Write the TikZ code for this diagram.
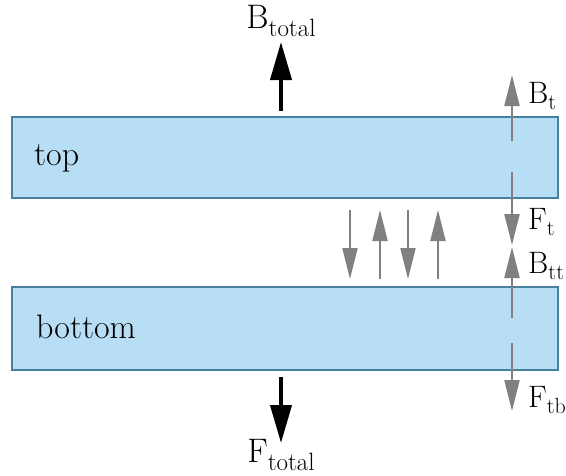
\documentclass[tikz,border=0pt]{standalone}
\usetikzlibrary{arrows.meta}
\definecolor{boxfill}{RGB}{183,222,245}
\definecolor{boxdraw}{RGB}{72,128,160}
\definecolor{garrow}{RGB}{128,128,128}
\newcommand{\mysub}[1]{\raisebox{-0.22em}{\fontsize{25}{25}\selectfont #1}}
\newcommand{\mysubs}[1]{\raisebox{-0.22em}{\fontsize{22}{22}\selectfont #1}}
\tikzset{
  plate/.style={draw=boxdraw, fill=boxfill, line width=1.6pt},
  bigarrow/.style={line width=4pt, -{Triangle[length=38pt,width=21pt]}, black},
  smallarrow/.style={line width=2pt, garrow, -{Triangle[length=31pt,width=15pt]}},
  lbl/.style={font=\fontsize{34}{38}\selectfont, inner sep=0pt},
  slbl/.style={font=\fontsize{31}{35}\selectfont, inner sep=0pt, anchor=west}
}
\begin{document}
\begin{tikzpicture}[x=1pt,y=-1pt]
\useasboundingbox (0,0) rectangle (566,475);
% plates
\draw[plate] (12,117) rectangle (558,198);
\draw[plate] (12,287) rectangle (558,370);
\node[lbl, anchor=west] (top) at (34,158) {top};
\node[lbl, anchor=west] (bot) at (36,327) {bottom};
% black arrows
\coordinate (bs) at (281,111);
\coordinate (be) at (281,42);
\draw[bigarrow] (bs) -- (be);
\node[lbl] (Btot) at (281,21) {B\mysub{total}};
\coordinate (fs) at (281,377);
\coordinate (fe) at (281,443);
\draw[bigarrow] (fs) -- (fe);
\node[lbl] (Ftot) at (281,455) {F\mysub{total}};
% side arrows
\coordinate (bt1) at (512,141);
\coordinate (bt2) at (512,75);
\draw[smallarrow] (bt1) -- (bt2);
\node[slbl] (Bt) at (528,96) {B\mysubs{t}};
\coordinate (ft1) at (512,172);
\coordinate (ft2) at (512,245);
\draw[smallarrow] (ft1) -- (ft2);
\node[slbl] (Ft) at (528,222) {F\mysubs{t}};
\coordinate (btt1) at (512,318);
\coordinate (btt2) at (512,247);
\draw[smallarrow] (btt1) -- (btt2);
\node[slbl] (Btt) at (528,266) {B\mysubs{tt}};
\coordinate (ftb1) at (512,343);
\coordinate (ftb2) at (512,411);
\draw[smallarrow] (ftb1) -- (ftb2);
\node[slbl] (Ftb) at (528,400) {F\mysubs{tb}};
% middle arrows
\coordinate (m1a) at (350,210); \coordinate (m1b) at (350,279);
\coordinate (m2a) at (380,279); \coordinate (m2b) at (380,210);
\coordinate (m3a) at (408,210); \coordinate (m3b) at (408,279);
\coordinate (m4a) at (438,279); \coordinate (m4b) at (438,210);
\draw[smallarrow] (m1a) -- (m1b);
\draw[smallarrow] (m2a) -- (m2b);
\draw[smallarrow] (m3a) -- (m3b);
\draw[smallarrow] (m4a) -- (m4b);
\end{tikzpicture}
\end{document}
